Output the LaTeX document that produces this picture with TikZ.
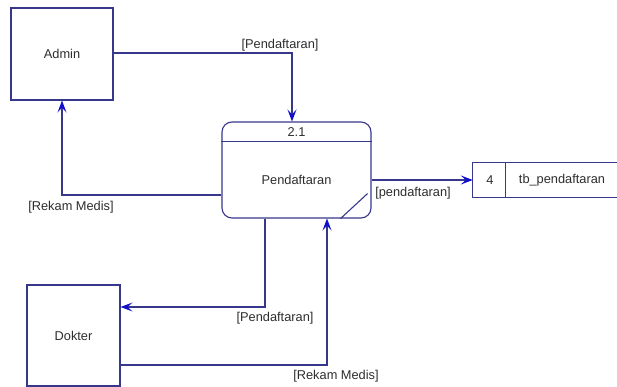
\documentclass[tikz,border=0pt]{standalone}
\usepackage{fontspec}
\setmainfont{Liberation Sans}
\usetikzlibrary{arrows.meta}
\definecolor{linec}{RGB}{55,55,140}
\definecolor{tipc}{RGB}{15,15,205}
\definecolor{txtc}{RGB}{45,45,45}
\begin{document}
\begin{tikzpicture}[x=1pt,y=-1pt,
  every node/.style={font=\fontsize{12.8}{14}\selectfont, text=txtc},
  entity/.style={draw=linec, line width=1.1pt, rectangle, inner sep=0pt},
  flow/.style={draw=linec, line width=1.1pt, -{Stealth[length=12pt,width=9pt,inset=5pt,color=tipc,fill=tipc]}},
  lbl/.style={inner sep=1pt}
]
\useasboundingbox (0,0) rectangle (617,387);
% entities
\node[entity, minimum width=102pt, minimum height=92pt] (admin) at (62,54) {Admin};
\node[entity, minimum width=93pt, minimum height=101pt] (dokter) at (73.5,335.5) {Dokter};
% process
\node[draw=linec, line width=1.1pt, rounded corners=10pt, minimum width=149pt, minimum height=96pt, inner sep=0pt] (proc) at (296.5,170) {};
\node (pid) at (296.5,132) {2.1};
\node (pname) at (296.5,180) {Pendaftaran};
\draw[draw=linec, line width=1.1pt] ([yshift=-20pt]proc.north west) -- ([yshift=-20pt]proc.north east);
\draw[draw=linec, line width=1.1pt] ([xshift=-31pt]proc.south east) -- ([xshift=-4pt,yshift=25pt]proc.south east);
% data store
\node[minimum width=144pt, minimum height=34pt, inner sep=0pt] (store) at (545,180) {};
\draw[draw=linec, line width=1.1pt] (store.north east) -- (store.north west) -- (store.south west) -- (store.south east);
\draw[draw=linec, line width=1.1pt] ([xshift=33pt]store.north west) -- ([xshift=33pt]store.south west);
\node (sid) at (490,180) {4};
\node (sname) at (562,180) {tb\_pendaftaran};
% flows
\draw[flow] ([yshift=1pt]admin.east) -| ([xshift=-4.5pt]proc.north);
\node[lbl] (l1) at (280,45) {[Pendaftaran]};
\draw[flow] ([yshift=-10pt]proc.east) -- (store.west);
\node[lbl] (l2) at (413,193) {[pendaftaran]};
\draw[flow] ([yshift=-25pt]proc.west) -| (admin.south);
\node[lbl] (l3) at (71,207) {[Rekam Medis]};
\draw[flow] ([xshift=-31.5pt]proc.south) |- ([yshift=28.5pt]dokter.east);
\node[lbl] (l4) at (275,318) {[Pendaftaran]};
\draw[flow] ([yshift=-29.5pt]dokter.east) -| ([xshift=30.5pt]proc.south);
\node[lbl] (l5) at (336,376) {[Rekam Medis]};
\end{tikzpicture}
\end{document}
